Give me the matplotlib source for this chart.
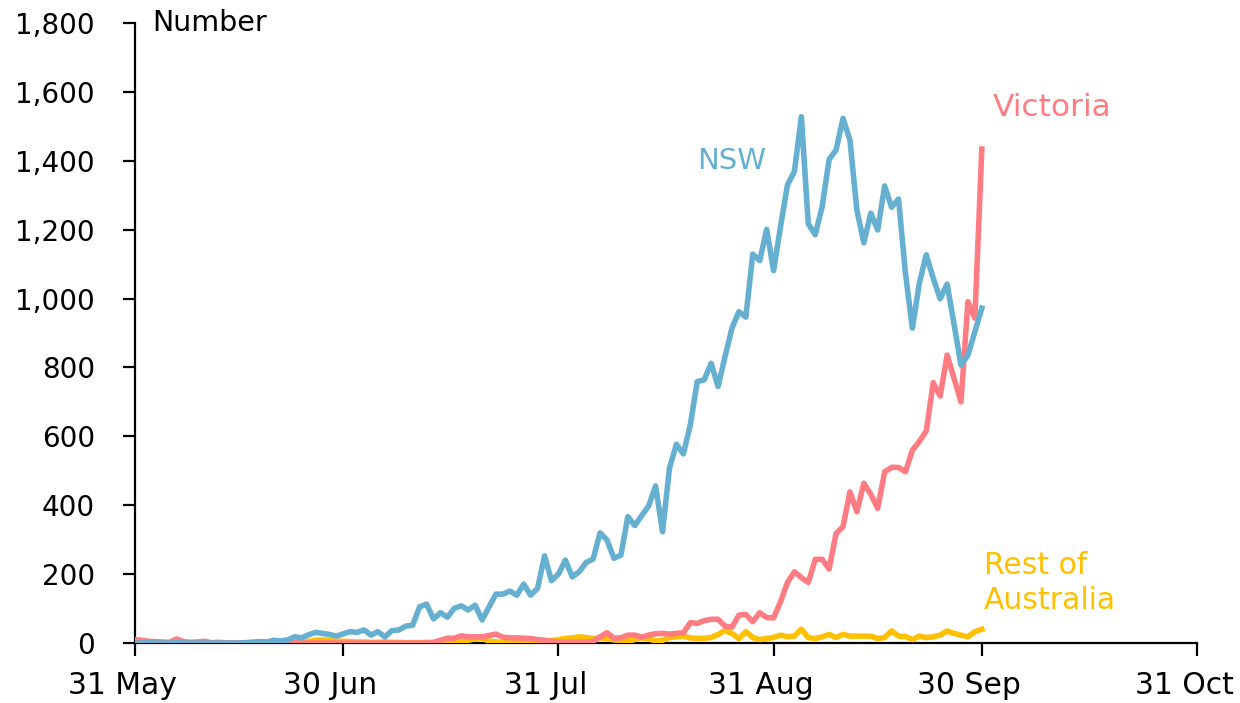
import numpy as np
import pandas as pd
import matplotlib
matplotlib.use("Agg")
import matplotlib.pyplot as plt
import matplotlib.dates as mdates
import matplotlib.transforms as mtransforms
from matplotlib.ticker import FuncFormatter, MultipleLocator

# ── data: daily new cases, 31 May – 30 Sep 2021 ───────────────────────────
dates = pd.date_range("2021-05-31", "2021-09-30", freq="D")

nsw = [
    0, 0, 1, 0, 0, 0, 1, 0, 0, 0,
    0, 0, 0, 0, 0, 0, 1, 3, 4, 3,
    8, 6, 9, 18, 15, 24, 31, 28, 25, 20,
    27, 33, 31, 38, 23, 33, 18, 36, 38, 49,
    52, 105, 113, 70, 88, 75, 101, 108, 96, 110,
    67, 105, 142, 142, 151, 139, 171, 139, 159, 253,
    181, 200, 241, 192, 207, 234, 244, 320, 299, 246,
    255, 367, 341, 370, 398, 456, 323, 508, 577, 549,
    633, 759, 764, 812, 745, 831, 914, 962, 946, 1129,
    1110, 1201, 1081, 1209, 1330, 1369, 1528, 1217, 1185, 1267,
    1404, 1431, 1523, 1460, 1257, 1162, 1248, 1199, 1327, 1265,
    1289, 1073, 914, 1045, 1127, 1059, 999, 1042, 926, 807,
    836, 904, 972,
]

vic = [
    10, 8, 5, 4, 3, 2, 12, 4, 2, 3,
    5, 1, 2, 1, 0, 1, 0, 0, 1, 0,
    0, 0, 0, 1, 0, 0, 0, 0, 0, 0,
    0, 0, 0, 0, 0, 0, 0, 0, 0, 0,
    0, 0, 0, 2, 8, 14, 14, 21, 18, 18,
    18, 22, 26, 17, 15, 15, 14, 13, 10, 8,
    5, 3, 2, 2, 3, 2, 5, 18, 30, 14,
    15, 23, 23, 17, 23, 27, 28, 26, 28, 30,
    59, 57, 65, 69, 69, 49, 46, 81, 83, 62,
    88, 74, 73, 120, 176, 207, 190, 176, 243, 243,
    215, 318, 338, 439, 381, 464, 432, 391, 497, 510,
    510, 497, 560, 585, 616, 756, 717, 836, 768, 700,
    991, 943, 1434,
]

rest = [
    1, 0, 0, 1, 0, 0, 0, 1, 0, 0,
    0, 0, 1, 0, 0, 0, 0, 1, 0, 0,
    0, 1, 0, 0, 2, 5, 8, 9, 8, 6,
    5, 4, 3, 3, 2, 2, 3, 2, 2, 1,
    1, 1, 2, 1, 1, 2, 3, 5, 8, 12,
    13, 6, 3, 2, 2, 2, 3, 5, 8, 4,
    7, 10, 13, 15, 18, 16, 13, 15, 12, 9,
    8, 6, 10, 15, 12, 6, 8, 16, 18, 20,
    15, 13, 14, 16, 25, 36, 28, 13, 33, 16,
    10, 13, 16, 23, 18, 20, 40, 16, 13, 18,
    25, 16, 25, 20, 20, 20, 20, 13, 16, 35,
    20, 19, 10, 20, 16, 18, 23, 35, 28, 23,
    18, 33, 40,
]

tick_dates = pd.to_datetime(["2021-05-31", "2021-06-30", "2021-07-31",
                             "2021-08-31", "2021-09-30", "2021-10-31"])

# ── colours ───────────────────────────────────────────────────────────────
C_NSW = "#65B0D0"
C_VIC = "#FF7C82"
C_REST = "#FFC000"

plt.rcParams.update({
    "font.family": "DejaVu Sans",
    "font.size": 20,
})

fig = plt.figure(figsize=(12.4, 7.03), dpi=100)
ax = fig.add_axes([0.1089, 0.0853, 0.8564, 0.882])

ax.plot(dates, rest, color=C_REST, lw=4, zorder=3, solid_joinstyle="round")
ax.plot(dates, vic, color=C_VIC, lw=4, zorder=4, solid_joinstyle="round")
ax.plot(dates, nsw, color=C_NSW, lw=4, zorder=5, solid_joinstyle="round")

ax.set_xlim(tick_dates[0], tick_dates[-1])
ax.set_ylim(0, 1800)
ax.yaxis.set_major_locator(MultipleLocator(200))
ax.yaxis.set_major_formatter(FuncFormatter(lambda v, p: f"{int(v):,}"))
ax.set_xticks(tick_dates)
ax.xaxis.set_major_formatter(mdates.DateFormatter("%d %b"))

for s in ["top", "right"]:
    ax.spines[s].set_visible(False)
for s in ["left", "bottom"]:
    ax.spines[s].set_linewidth(1.6)
ax.tick_params(axis="both", direction="out", length=9, width=1.6)
ax.tick_params(axis="x", pad=11, labelsize=21.5)
ax.tick_params(axis="y", pad=20, labelsize=20)

# x labels sit a little left of their ticks in the original
shift = mtransforms.ScaledTranslation(-13 / 100, 0, fig.dpi_scale_trans)
for lbl in ax.get_xticklabels():
    lbl.set_transform(lbl.get_transform() + shift)

# ── series labels ─────────────────────────────────────────────────────────
ax.text(pd.Timestamp("2021-08-20"), 1400, "NSW", color=C_NSW, fontsize=21, va="center")
ax.text(pd.Timestamp("2021-10-01 14:00"), 1556, "Victoria", color=C_VIC, fontsize=22.5, va="center")
ax.text(pd.Timestamp("2021-09-30 06:00"), 174, "Rest of\nAustralia", color=C_REST,
        fontsize=21.5, va="center", linespacing=1.25)
ax.text(pd.Timestamp("2021-06-02 10:00"), 1800, "Number", color="black", fontsize=20.5, va="center")

fig.savefig("out.png", dpi=100)
